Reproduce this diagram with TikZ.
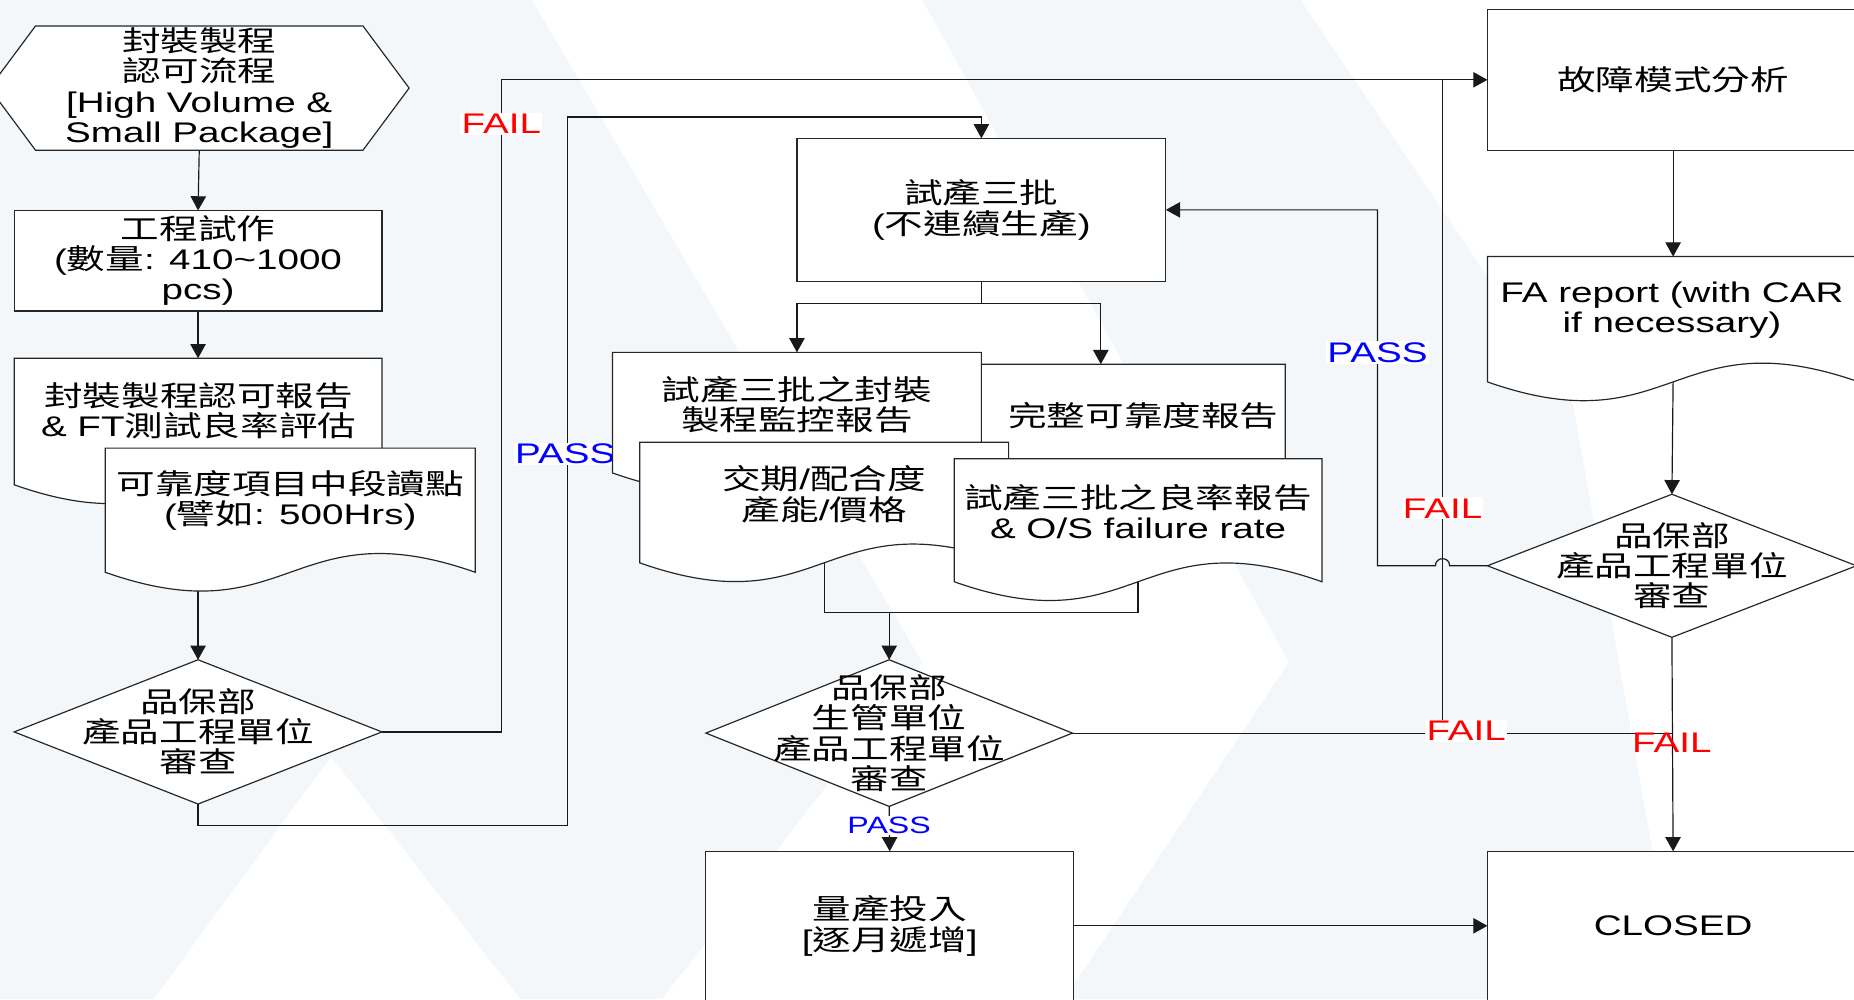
\documentclass[tikz,border=0pt]{standalone}
\usepackage{fontspec}
\setmainfont{Liberation Sans}[FakeStretch=1.36]
\newfontfamily\cjk{Noto Sans CJK TC}[FakeStretch=1.36]
\usetikzlibrary{arrows.meta,calc}
\pgfdeclarelayer{back}
\pgfdeclarelayer{bg}
\pgfsetlayers{back,bg,main}
\newcommand\zh[1]{{\cjk #1}}
\definecolor{wm}{RGB}{243,247,250}
\newcommand\docpath[1]{\draw[shp] (#1.north west) -- (#1.north east) -- (#1.south east)
  .. controls ($(#1.south)+(0,-55)$) and ($(#1.south)+(0,55)$) .. (#1.south west) -- cycle;}
\newcommand\diapath[1]{\draw[shp] (#1.north) -- (#1.east) -- (#1.south) -- (#1.west) -- cycle;}
\tikzset{
  ln/.style={draw=black!90, line width=1pt},
  arr/.style={ln, -{Triangle[length=12pt,width=13pt]}},
  shp/.style={draw=black!85, line width=1pt, fill=white},
  body/.style={rectangle, inner sep=0pt, outer sep=0pt},
  box/.style={body, shp},
  txt/.style={align=center, inner sep=0pt, font=\fontsize{24}{25.5}\selectfont},
  fail/.style={text=red, fill=white, inner sep=1pt, font=\fontsize{24}{24}\selectfont},
  pass/.style={text=blue, fill=white, inner sep=1pt, font=\fontsize{24}{24}\selectfont},
}
\begin{document}
\begin{tikzpicture}[x=1pt,y=-1pt]
\useasboundingbox (0,0) rectangle (1568,845);
\clip (0,0) rectangle (1568,845);
\begin{pgfonlayer}{back}
\fill[wm] (0,0) rectangle (1568,845);
\fill[white] (450,0) -- (780,0) -- (1090,560) -- (900,845) -- (560,845) -- (780,560) -- cycle;
\fill[white] (1100,0) -- (1568,0) -- (1568,845) -- (1420,845) -- (1330,340) -- cycle;
\fill[white] (130,845) -- (280,640) -- (440,845) -- cycle;
\end{pgfonlayer}

% ---- shapes ----
\node[body, minimum width=277pt, minimum height=105pt] (hex) at (168.5,74.5) {};
\draw[shp] (hex.north west) -- (hex.north east) -- ($(hex.east)+(39,0)$) -- (hex.south east)
  -- (hex.south west) -- ($(hex.west)+(-39,0)$) -- cycle;
\node[txt] (hext) at (hex) {\zh{封裝製程}\\\zh{認可流程}\\{}[High Volume \&\\Small Package]};

\node[box, minimum width=311pt, minimum height=85pt, txt] (box1) at (167.5,220.5)
  {\zh{工程試作}\\(\zh{數量}: 410\string~1000\\pcs)};

\node[body, minimum width=311pt, minimum height=107pt] (doc1) at (167.5,356.5) {};
\docpath{doc1}
\node[txt] (doc1t) at (168,347.5) {\zh{封裝製程認可報告}\\\& FT\zh{測試良率評估}};

\node[body, minimum width=313pt, minimum height=105pt] (doc2) at (245.5,431.5) {};
\docpath{doc2}
\node[txt] (doc2t) at (245.5,423) {\zh{可靠度項目中段讀點}\\(\zh{譬如}: 500Hrs)};

\node[body, minimum width=311pt, minimum height=122pt] (dia1) at (167.5,619) {};
\diapath{dia1}
\node[txt] (dia1t) at (dia1) {\zh{品保部}\\\zh{產品工程單位}\\\zh{審查}};

\node[box, minimum width=312pt, minimum height=121pt, txt] (trial) at (830,177.5)
  {\zh{試產三批}\\(\zh{不連續生產})};

\node[body, minimum width=312pt, minimum height=102pt] (doc4) at (931,359) {};
\docpath{doc4}
\node[txt] (doc4t) at (967,352) {\zh{完整可靠度報告}};

\node[body, minimum width=312pt, minimum height=102pt] (doc3) at (674,349) {};
\docpath{doc3}
\node[txt] (doc3t) at (674,342) {\zh{試產三批之封裝}\\\zh{製程監控報告}};

\node[body, minimum width=312pt, minimum height=102pt] (doc5) at (697,425) {};
\docpath{doc5}
\node[txt] (doc5t) at (697,418) {\zh{交期}/\zh{配合度}\\\zh{產能}/\zh{價格}};

\node[body, minimum width=311pt, minimum height=104pt] (doc6) at (962.5,440) {};
\docpath{doc6}
\node[txt] (doc6t) at (962.5,433) {\zh{試產三批之良率報告}\\\& O/S failure rate};

\node[body, minimum width=310pt, minimum height=124pt] (dia2) at (752,620) {};
\diapath{dia2}
\node[txt] (dia2t) at (dia2) {\zh{品保部}\\\zh{生管單位}\\\zh{產品工程單位}\\\zh{審查}};

\node[box, minimum width=311pt, minimum height=126pt, txt] (prod) at (752.5,783)
  {\zh{量產投入}\\{}[\zh{逐月遞增}]};

\node[box, minimum width=314pt, minimum height=126pt, txt] (closed) at (1415,783) {CLOSED};

\node[box, minimum width=314pt, minimum height=119pt, txt] (fama) at (1415,67.5) {\zh{故障模式分析}};

\node[body, minimum width=314pt, minimum height=106pt] (fa) at (1415,270) {};
\docpath{fa}
\node[txt] (fat) at (1414,262) {FA report (with CAR\\if necessary)};

\node[body, minimum width=312pt, minimum height=121pt] (dia3) at (1414,478.5) {};
\diapath{dia3}
\node[txt] (dia3t) at (dia3) {\zh{品保部}\\\zh{產品工程單位}\\\zh{審查}};

% ---- connectors (behind shapes) ----
\begin{pgfonlayer}{bg}
\draw[arr] (hex.south) -- (box1.north);
\draw[arr] (box1.south) -- (doc1.north);
\draw[arr] (doc2.south -| dia1.north) -- (dia1.north);
\draw[arr] (dia1.east) -- ++(101,0) |- (fama.west);
\draw[arr] (dia1.south) -- ++(0,18) -| (480,99) -| (trial.north);
\draw[ln] (trial.south) -- ++(0,19) coordinate (sp);
\draw[arr] (sp) -| (doc3.north);
\draw[arr] (sp) -| (doc4.north);
\draw[ln] (doc5.south) -- ++(0,42) coordinate (jn) -| (doc6.south);
\draw[arr] (dia2.north |- jn) -- (dia2.north);
\draw[arr] (dia2.south) -- (prod.north);
\draw[arr] (prod.east) -- (closed.west);
\draw[arr] (fama.south) -- (fa.north);
\draw[arr] (fa.south) -- (dia3.north);
\draw[arr] (dia3.south) -- (closed.north);
\draw[ln] (dia2.east) -- (dia3.south |- dia2.east);
\coordinate (vj) at (1220,620);
\draw[ln] (vj) -- (vj |- fama.west);
\draw[arr] (dia3.west) -- (1226,478.5) .. controls (1226,470.5) and (1214,470.5) .. (1214,478.5)
  -- (1165,478.5) |- (trial.east);
% labels
\node[fail] (l1) at (424,105) {FAIL};
\node[pass] (l2) at (478,384) {PASS};
\node[pass] (l3) at (1165,298) {PASS};
\node[fail] (l4) at (1220,430) {FAIL};
\node[fail] (l5) at (1240,618) {FAIL};
\node[fail, fill=none] (l6) at (1414,628) {FAIL};
\node[pass, font=\fontsize{20}{20}\selectfont] (l7) at (752,698) {PASS};
\end{pgfonlayer}
\end{tikzpicture}
\end{document}
